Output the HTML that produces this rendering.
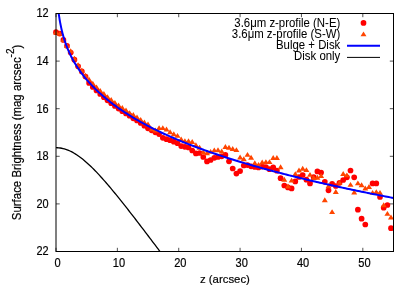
<!DOCTYPE html>
<html><head><meta charset="utf-8"><title>plot</title>
<style>html,body{margin:0;padding:0;background:#fff}svg{display:block}text{font-family:"Liberation Sans",sans-serif;font-size:11.4px;fill:#000;stroke:#000;stroke-width:0.2px}.lg text{stroke-width:0.05px}</style></head>
<body>
<svg width="411" height="288" viewBox="0 0 411 288">
<rect width="411" height="288" fill="#fff"/>
<defs><clipPath id="c"><rect x="56" y="13.5" width="337.5" height="238"/></clipPath></defs>
<path d="M56.00 251.50v-3.7M56.00 13.50v3.7M117.36 251.50v-3.7M117.36 13.50v3.7M178.73 251.50v-3.7M178.73 13.50v3.7M240.09 251.50v-3.7M240.09 13.50v3.7M301.45 251.50v-3.7M301.45 13.50v3.7M362.82 251.50v-3.7M362.82 13.50v3.7M56.00 13.50h3.7M393.50 13.50h-3.7M56.00 61.10h3.7M393.50 61.10h-3.7M56.00 108.70h3.7M393.50 108.70h-3.7M56.00 156.30h3.7M393.50 156.30h-3.7M56.00 203.90h3.7M393.50 203.90h-3.7M56.00 251.50h3.7M393.50 251.50h-3.7" stroke="#333" stroke-width="0.85" fill="none"/>
<g fill="#ff0000"><circle cx="56.0" cy="32.2" r="2.85"/><circle cx="59.7" cy="33.6" r="2.85"/><circle cx="63.4" cy="39.9" r="2.85"/><circle cx="67.0" cy="45.8" r="2.85"/><circle cx="70.7" cy="52.5" r="2.85"/><circle cx="74.4" cy="59.7" r="2.85"/><circle cx="78.1" cy="66.3" r="2.85"/><circle cx="81.8" cy="71.4" r="2.85"/><circle cx="85.5" cy="76.5" r="2.85"/><circle cx="89.1" cy="82.9" r="2.85"/><circle cx="92.8" cy="86.9" r="2.85"/><circle cx="96.5" cy="90.5" r="2.85"/><circle cx="100.2" cy="94.0" r="2.85"/><circle cx="103.9" cy="97.2" r="2.85"/><circle cx="107.5" cy="100.3" r="2.85"/><circle cx="111.2" cy="103.2" r="2.85"/><circle cx="114.9" cy="106.0" r="2.85"/><circle cx="118.6" cy="108.6" r="2.85"/><circle cx="122.3" cy="111.2" r="2.85"/><circle cx="126.0" cy="113.4" r="2.85"/><circle cx="129.6" cy="115.7" r="2.85"/><circle cx="133.3" cy="118.3" r="2.85"/><circle cx="137.0" cy="120.5" r="2.85"/><circle cx="140.7" cy="123.0" r="2.85"/><circle cx="144.4" cy="125.7" r="2.85"/><circle cx="148.0" cy="128.3" r="2.85"/><circle cx="151.7" cy="130.3" r="2.85"/><circle cx="155.4" cy="132.3" r="2.85"/><circle cx="159.1" cy="134.1" r="2.85"/><circle cx="162.8" cy="137.8" r="2.85"/><circle cx="166.5" cy="139.2" r="2.85"/><circle cx="170.1" cy="140.2" r="2.85"/><circle cx="173.8" cy="141.7" r="2.85"/><circle cx="177.5" cy="143.2" r="2.85"/><circle cx="181.2" cy="146.1" r="2.85"/><circle cx="184.9" cy="146.8" r="2.85"/><circle cx="188.5" cy="147.5" r="2.85"/><circle cx="192.2" cy="150.5" r="2.85"/><circle cx="195.9" cy="153.4" r="2.85"/><circle cx="199.6" cy="153.0" r="2.85"/><circle cx="203.3" cy="157.0" r="2.85"/><circle cx="207.0" cy="161.4" r="2.85"/><circle cx="210.6" cy="160.0" r="2.85"/><circle cx="214.3" cy="157.8" r="2.85"/><circle cx="218.0" cy="157.0" r="2.85"/><circle cx="221.7" cy="156.3" r="2.85"/><circle cx="225.4" cy="154.9" r="2.85"/><circle cx="229.0" cy="161.3" r="2.85"/><circle cx="232.7" cy="168.5" r="2.85"/><circle cx="236.4" cy="173.6" r="2.85"/><circle cx="240.1" cy="171.1" r="2.85"/><circle cx="243.8" cy="165.5" r="2.85"/><circle cx="247.5" cy="165.1" r="2.85"/><circle cx="251.1" cy="166.3" r="2.85"/><circle cx="254.8" cy="167.0" r="2.85"/><circle cx="258.5" cy="167.4" r="2.85"/><circle cx="262.2" cy="166.6" r="2.85"/><circle cx="265.9" cy="167.0" r="2.85"/><circle cx="269.5" cy="169.2" r="2.85"/><circle cx="273.2" cy="167.4" r="2.85"/><circle cx="276.9" cy="170.7" r="2.85"/><circle cx="280.6" cy="178.2" r="2.85"/><circle cx="284.3" cy="185.5" r="2.85"/><circle cx="288.0" cy="187.4" r="2.85"/><circle cx="291.6" cy="188.4" r="2.85"/><circle cx="295.3" cy="181.4" r="2.85"/><circle cx="299.0" cy="177.0" r="2.85"/><circle cx="302.7" cy="175.0" r="2.85"/><circle cx="306.4" cy="179.7" r="2.85"/><circle cx="310.0" cy="183.4" r="2.85"/><circle cx="313.7" cy="177.2" r="2.85"/><circle cx="317.4" cy="171.4" r="2.85"/><circle cx="321.1" cy="172.6" r="2.85"/><circle cx="324.8" cy="181.8" r="2.85"/><circle cx="328.5" cy="190.3" r="2.85"/><circle cx="332.1" cy="183.8" r="2.85"/><circle cx="335.8" cy="186.0" r="2.85"/><circle cx="339.5" cy="182.8" r="2.85"/><circle cx="343.2" cy="180.0" r="2.85"/><circle cx="346.9" cy="177.3" r="2.85"/><circle cx="350.5" cy="170.5" r="2.85"/><circle cx="354.2" cy="177.3" r="2.85"/><circle cx="357.9" cy="209.7" r="2.85"/><circle cx="361.6" cy="218.7" r="2.85"/><circle cx="365.3" cy="224.5" r="2.85"/><circle cx="372.6" cy="183.4" r="2.85"/><circle cx="376.3" cy="183.4" r="2.85"/><circle cx="380.0" cy="197.0" r="2.85"/><circle cx="383.7" cy="207.7" r="2.85"/><circle cx="387.4" cy="205.0" r="2.85"/><circle cx="391.0" cy="228.2" r="2.85"/></g>
<path fill="#ff4500" d="M56.0 29.5l3 4.9h-6zM59.7 30.9l3 4.9h-6zM63.4 37.2l3 4.9h-6zM67.0 43.1l3 4.9h-6zM70.7 48.3l3 4.9h-6zM74.4 55.8l3 4.9h-6zM78.1 62.3l3 4.9h-6zM81.8 67.8l3 4.9h-6zM85.5 72.8l3 4.9h-6zM89.1 76.8l3 4.9h-6zM92.8 80.8l3 4.9h-6zM96.5 84.4l3 4.9h-6zM100.2 87.9l3 4.9h-6zM103.9 91.1l3 4.9h-6zM107.5 94.2l3 4.9h-6zM111.2 97.1l3 4.9h-6zM114.9 99.9l3 4.9h-6zM118.6 102.5l3 4.9h-6zM122.3 105.1l3 4.9h-6zM126.0 107.5l3 4.9h-6zM129.6 110.2l3 4.9h-6zM133.3 112.1l3 4.9h-6zM137.0 114.5l3 4.9h-6zM140.7 117.1l3 4.9h-6zM144.4 119.5l3 4.9h-6zM148.0 121.4l3 4.9h-6zM151.7 126.3l3 4.9h-6zM155.4 127.5l3 4.9h-6zM159.1 125.2l3 4.9h-6zM162.8 125.2l3 4.9h-6zM166.5 126.6l3 4.9h-6zM170.1 129.3l3 4.9h-6zM173.8 131.3l3 4.9h-6zM177.5 132.9l3 4.9h-6zM181.2 136.5l3 4.9h-6zM184.9 138.3l3 4.9h-6zM188.5 138.3l3 4.9h-6zM192.2 139.0l3 4.9h-6zM195.9 142.3l3 4.9h-6zM199.6 144.8l3 4.9h-6zM203.3 149.3l3 4.9h-6zM207.0 150.3l3 4.9h-6zM210.6 148.9l3 4.9h-6zM214.3 147.4l3 4.9h-6zM218.0 147.3l3 4.9h-6zM221.7 148.5l3 4.9h-6zM225.4 144.0l3 4.9h-6zM229.0 144.8l3 4.9h-6zM232.7 146.1l3 4.9h-6zM236.4 147.2l3 4.9h-6zM240.1 154.5l3 4.9h-6zM243.8 156.3l3 4.9h-6zM247.5 151.9l3 4.9h-6zM251.1 154.8l3 4.9h-6zM254.8 160.3l3 4.9h-6zM258.5 162.1l3 4.9h-6zM262.2 159.5l3 4.9h-6zM265.9 159.2l3 4.9h-6zM269.5 159.2l3 4.9h-6zM273.2 155.1l3 4.9h-6zM276.9 155.1l3 4.9h-6zM280.6 164.3l3 4.9h-6zM284.3 176.8l3 4.9h-6zM288.0 183.6l3 4.9h-6zM291.6 177.7l3 4.9h-6zM295.3 171.2l3 4.9h-6zM299.0 167.5l3 4.9h-6zM302.7 165.8l3 4.9h-6zM306.4 167.2l3 4.9h-6zM310.0 171.9l3 4.9h-6zM313.7 175.1l3 4.9h-6zM317.4 174.8l3 4.9h-6zM321.1 173.1l3 4.9h-6zM324.8 197.3l3 4.9h-6zM328.5 183.3l3 4.9h-6zM332.1 209.2l3 4.9h-6zM335.8 189.1l3 4.9h-6zM339.5 179.9l3 4.9h-6zM343.2 171.1l3 4.9h-6zM346.9 172.4l3 4.9h-6zM350.5 181.9l3 4.9h-6zM354.2 189.5l3 4.9h-6zM357.9 180.4l3 4.9h-6zM361.6 182.3l3 4.9h-6zM365.3 185.5l3 4.9h-6zM369.0 184.1l3 4.9h-6zM372.6 189.9l3 4.9h-6zM376.3 189.2l3 4.9h-6zM380.0 189.9l3 4.9h-6zM383.7 202.3l3 4.9h-6zM387.4 210.9l3 4.9h-6zM391.0 214.6l3 4.9h-6z"/>
<path d="M56.31 -21.43L56.54 -14.13L56.77 -8.95L56.99 -4.85L57.22 -1.42L57.45 1.55L57.68 4.18L57.91 6.55L58.14 8.70L58.37 10.69L58.60 12.54L58.83 14.26L59.06 15.88L59.29 17.41L59.51 18.86L59.74 20.24L59.97 21.55L60.20 22.81L60.43 24.01L60.66 25.17L60.89 26.29L61.12 27.36L61.35 28.40L61.58 29.41L61.81 30.38L62.04 31.33L62.26 32.25L62.49 33.14L62.72 34.01L62.95 34.85L63.18 35.68L63.41 36.48L63.64 37.27L63.87 38.03L64.10 38.78L64.33 39.52L64.56 40.23L64.79 40.94L65.01 41.63L65.24 42.30L65.47 42.97L65.70 43.62L65.93 44.26L66.16 44.88L66.39 45.50L66.62 46.11L66.85 46.70L67.08 47.29L67.31 47.87L67.53 48.44L67.76 48.99L67.99 49.55L68.22 50.09L68.45 50.62L68.68 51.15L68.91 51.67L69.14 52.19L69.37 52.69L69.60 53.19L69.83 53.69L70.06 54.17L70.28 54.65L70.51 55.13L70.74 55.60L70.97 56.06L71.20 56.52L71.43 56.97L71.66 57.42L71.89 57.86L72.12 58.30L72.35 58.74L72.58 59.16L72.81 59.59L73.03 60.01L73.26 60.42L73.49 60.83L73.72 61.24L73.95 61.64L74.18 62.04L74.41 62.44L74.72 62.96L76.32 65.59L77.92 68.07L79.52 70.42L81.12 72.65L82.73 74.77L84.33 76.81L85.93 78.76L87.53 80.64L89.13 82.45L90.74 84.19L92.34 85.89L93.94 87.52L95.54 89.12L97.14 90.66L98.74 92.17L100.35 93.63L101.95 95.06L103.55 96.45L105.15 97.81L106.75 99.14L108.36 100.44L109.96 101.71L111.56 102.96L113.16 104.18L114.76 105.37L116.37 106.54L117.97 107.69L119.57 108.82L121.17 109.92L122.77 111.01L124.38 112.07L125.98 113.12L127.58 114.15L129.18 115.16L130.78 116.16L132.39 117.14L133.99 118.10L135.59 119.05L137.19 119.98L138.79 120.90L140.40 121.80L142.00 122.70L143.60 123.57L145.20 124.44L146.80 125.29L148.40 126.14L150.01 126.97L151.61 127.79L153.21 128.59L154.81 129.39L156.41 130.18L158.02 130.96L159.62 131.72L161.22 132.48L162.82 133.23L164.42 133.97L166.03 134.70L167.63 135.43L169.23 136.14L170.83 136.85L172.43 137.54L174.04 138.24L175.64 138.92L177.24 139.60L178.84 140.26L180.44 140.93L182.05 141.58L183.65 142.23L185.25 142.87L186.85 143.51L188.45 144.14L190.05 144.76L191.66 145.38L193.26 145.99L194.86 146.60L196.46 147.20L198.06 147.79L199.67 148.38L201.27 148.97L202.87 149.55L204.47 150.12L206.07 150.69L207.68 151.26L209.28 151.82L210.88 152.37L212.48 152.93L214.08 153.47L215.69 154.01L217.29 154.55L218.89 155.09L220.49 155.62L222.09 156.14L223.70 156.67L225.30 157.18L226.90 157.70L228.50 158.21L230.10 158.72L231.71 159.22L233.31 159.72L234.91 160.22L236.51 160.71L238.11 161.20L239.71 161.68L241.32 162.17L242.92 162.65L244.52 163.12L246.12 163.60L247.72 164.07L249.33 164.53L250.93 165.00L252.53 165.46L254.13 165.92L255.73 166.37L257.34 166.83L258.94 167.28L260.54 167.72L262.14 168.17L263.74 168.61L265.35 169.05L266.95 169.49L268.55 169.92L270.15 170.35L271.75 170.78L273.36 171.21L274.96 171.63L276.56 172.06L278.16 172.48L279.76 172.89L281.36 173.31L282.97 173.72L284.57 174.13L286.17 174.54L287.77 174.95L289.37 175.35L290.98 175.75L292.58 176.15L294.18 176.55L295.78 176.95L297.38 177.34L298.99 177.73L300.59 178.12L302.19 178.51L303.79 178.90L305.39 179.28L307.00 179.66L308.60 180.04L310.20 180.42L311.80 180.80L313.40 181.17L315.01 181.54L316.61 181.92L318.21 182.29L319.81 182.65L321.41 183.02L323.02 183.38L324.62 183.75L326.22 184.11L327.82 184.47L329.42 184.82L331.02 185.18L332.63 185.54L334.23 185.89L335.83 186.24L337.43 186.59L339.03 186.94L340.64 187.29L342.24 187.63L343.84 187.97L345.44 188.32L347.04 188.66L348.65 189.00L350.25 189.34L351.85 189.67L353.45 190.01L355.05 190.34L356.66 190.68L358.26 191.01L359.86 191.34L361.46 191.67L363.06 191.99L364.67 192.32L366.27 192.64L367.87 192.97L369.47 193.29L371.07 193.61L372.67 193.93L374.28 194.25L375.88 194.57L377.48 194.88L379.08 195.20L380.68 195.51L382.29 195.82L383.89 196.13L385.49 196.44L387.09 196.75L388.69 197.06L390.30 197.37L391.90 197.67L393.50 197.98" stroke="#0000ff" stroke-width="2" fill="none" clip-path="url(#c)"/>
<path d="M56.00 147.70L57.40 147.73L58.80 147.83L60.19 148.00L61.59 148.24L62.99 148.54L64.39 148.91L65.79 149.34L67.19 149.84L68.58 150.40L69.98 151.02L71.38 151.70L72.78 152.44L74.18 153.24L75.57 154.09L76.97 154.99L78.37 155.95L79.77 156.95L81.17 158.00L82.57 159.10L83.96 160.24L85.36 161.42L86.76 162.65L88.16 163.91L89.56 165.21L90.95 166.54L92.35 167.90L93.75 169.30L95.15 170.72L96.55 172.17L97.94 173.65L99.34 175.16L100.74 176.69L102.14 178.24L103.54 179.81L104.94 181.40L106.33 183.01L107.73 184.63L109.13 186.27L110.53 187.93L111.93 189.60L113.32 191.29L114.72 192.99L116.12 194.70L117.52 196.42L118.92 198.15L120.32 199.89L121.71 201.64L123.11 203.40L124.51 205.16L125.91 206.94L127.31 208.72L128.70 210.50L130.10 212.30L131.50 214.09L132.90 215.90L134.30 217.71L135.70 219.52L137.09 221.34L138.49 223.16L139.89 224.98L141.29 226.81L142.69 228.64L144.08 230.47L145.48 232.31L146.88 234.15L148.28 235.99L149.68 237.84L151.07 239.68L152.47 241.53L153.87 243.38L155.27 245.23L156.67 247.09L158.07 248.94L159.46 250.80L160.86 252.65L162.26 254.51L163.66 256.37L165.06 258.23L166.45 260.09" stroke="#000" stroke-width="1.3" fill="none" clip-path="url(#c)"/>
<rect x="56" y="13.5" width="337.5" height="238" fill="none" stroke="#000" stroke-width="1"/>
<g opacity="0.999">
<text transform="translate(57.60,266.60) scale(0.97,1.05)" text-anchor="middle">0</text>
<text transform="translate(118.96,266.60) scale(0.97,1.05)" text-anchor="middle">10</text>
<text transform="translate(180.33,266.60) scale(0.97,1.05)" text-anchor="middle">20</text>
<text transform="translate(241.69,266.60) scale(0.97,1.05)" text-anchor="middle">30</text>
<text transform="translate(303.05,266.60) scale(0.97,1.05)" text-anchor="middle">40</text>
<text transform="translate(364.42,266.60) scale(0.97,1.05)" text-anchor="middle">50</text>
<text transform="translate(48.60,17.40) scale(0.96,1.07)" text-anchor="end">12</text>
<text transform="translate(48.60,65.00) scale(0.96,1.07)" text-anchor="end">14</text>
<text transform="translate(48.60,112.60) scale(0.96,1.07)" text-anchor="end">16</text>
<text transform="translate(48.60,160.20) scale(0.96,1.07)" text-anchor="end">18</text>
<text transform="translate(48.60,207.80) scale(0.96,1.07)" text-anchor="end">20</text>
<text transform="translate(48.60,255.40) scale(0.96,1.07)" text-anchor="end">22</text>
<text transform="translate(224.90,283.20) scale(1,1)" text-anchor="middle">z (arcsec)</text>
<text style="font-size:11.46px" transform="translate(21.3,220.2) rotate(-90) scale(1,1.09)">Surface Brightness (mag arcsec<tspan dy="-6.3" style="font-size:10px">-2</tspan><tspan dy="6.3">)</tspan></text>
<g class="lg">
<text transform="translate(340.30,26.60) scale(1,1.04)" text-anchor="end">3.6μm z-profile (N-E)</text>
<text transform="translate(340.30,37.90) scale(1,1.04)" text-anchor="end">3.6μm z-profile (S-W)</text>
<text transform="translate(340.30,49.00) scale(1,1.04)" text-anchor="end">Bulge + Disk</text>
<text transform="translate(340.30,60.20) scale(1,1.04)" text-anchor="end">Disk only</text>
</g>
</g>
<circle cx="363.5" cy="22.9" r="2.85" fill="#ff0000"/>
<path fill="#ff4500" d="M363.5 31.4l3 4.9h-6z"/>
<path d="M347 45.75H380" stroke="#0000ff" stroke-width="2"/>
<path d="M347 57.4H380" stroke="#000" stroke-width="1"/>
</svg></body></html>
